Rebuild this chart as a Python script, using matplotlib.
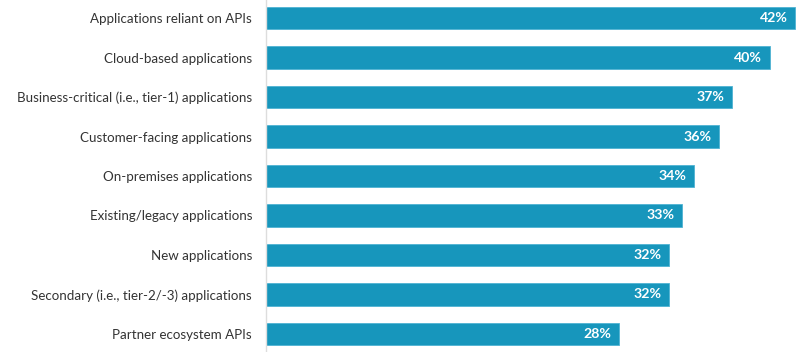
import matplotlib
matplotlib.use("Agg")
import matplotlib.pyplot as plt

categories = [
    "Applications reliant on APIs",
    "Cloud-based applications",
    "Business-critical (i.e., tier-1) applications",
    "Customer-facing applications",
    "On-premises applications",
    "Existing/legacy applications",
    "New applications",
    "Secondary (i.e., tier-2/-3) applications",
    "Partner ecosystem APIs",
]
values = [42, 40, 37, 36, 34, 33, 32, 32, 28]
value_labels = ["42%", "40%", "37%", "36%", "34%", "33%", "32%", "32%", "28%"]

plt.rcParams['font.family'] = ['Lato', 'DejaVu Sans']

fig = plt.figure(figsize=(8, 3.52), dpi=100)
ax = fig.add_axes([0.3325, -0.00497, 0.6675, 1.00994])

y = list(range(len(categories)))
ax.barh(y, values, height=0.56, color="#1796bc", edgecolor="#4fb3d3", linewidth=0.6)
ax.set_ylim(len(categories) - 0.5, -0.5)
ax.set_xlim(0, 42.4)

for yi, v, lab in zip(y, values, value_labels):
    ax.text(v - 0.6, yi, lab, ha="right", va="center", color="white",
            fontsize=10.2, fontweight="bold")

ax.set_yticks(y)
ax.set_yticklabels(categories, fontsize=9.6, color="#333333")
ax.tick_params(axis="y", length=0, pad=10)
ax.set_xticks([])
for s in ["top", "right", "bottom"]:
    ax.spines[s].set_visible(False)
ax.spines["left"].set_color("#dddddd")
ax.spines["left"].set_linewidth(1)

fig.savefig("out.png", dpi=100)
